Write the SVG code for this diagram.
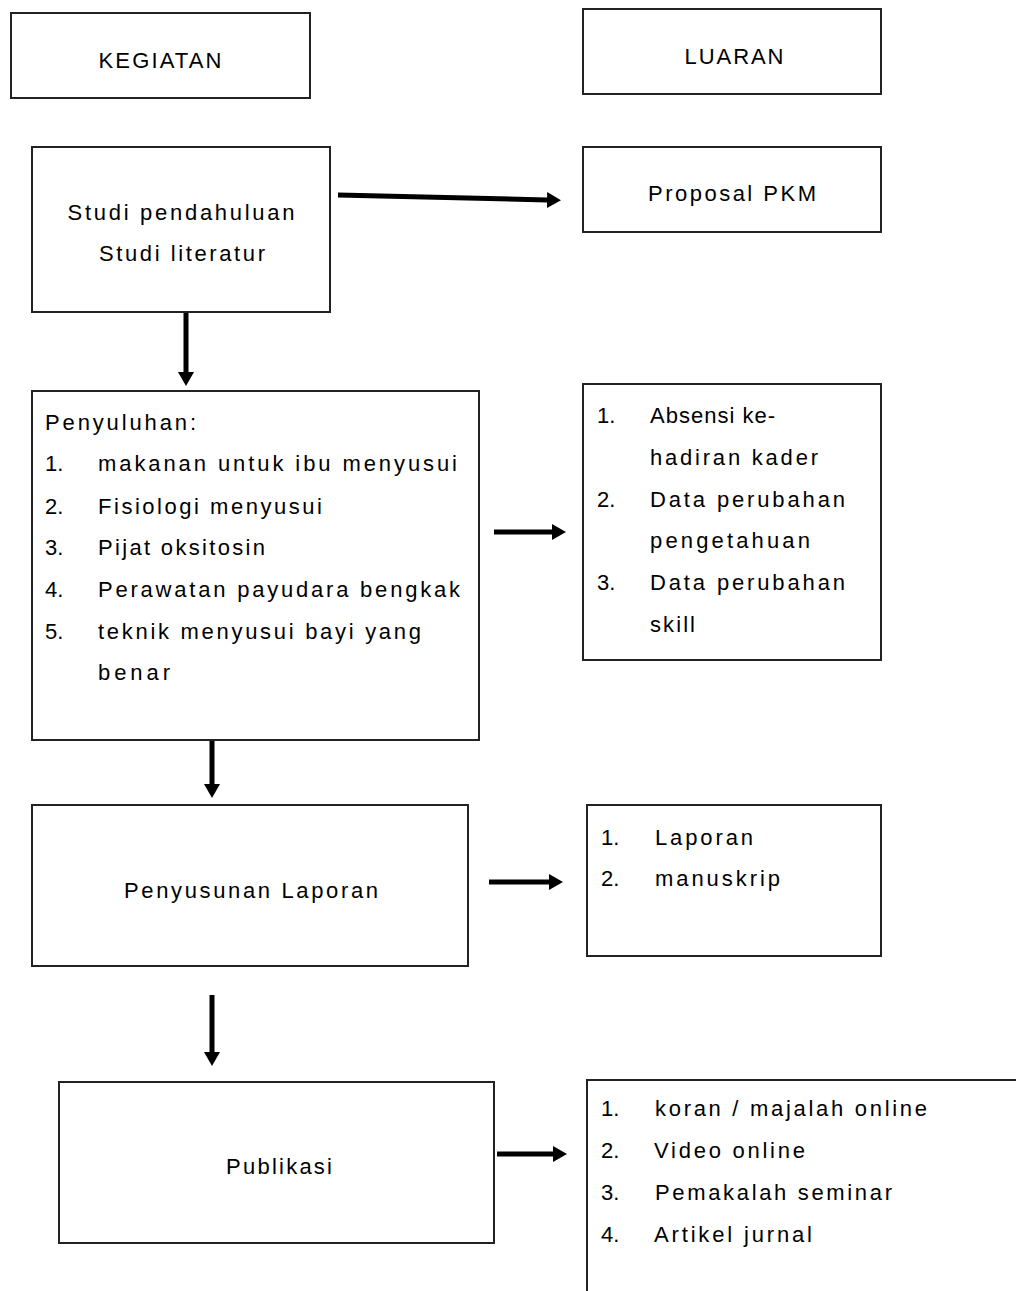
<svg xmlns="http://www.w3.org/2000/svg" width="1016" height="1291" viewBox="0 0 1016 1291">
<style>
.box{fill:#fff;stroke:#222;stroke-width:2}
text{font-family:"Liberation Sans",Arial,sans-serif;font-size:22px;fill:#000}
.c{text-anchor:middle}
.conn{stroke:#000;stroke-width:5;fill:none}
</style>
<defs>
<marker id="ah" markerUnits="userSpaceOnUse" markerWidth="16" markerHeight="18" refX="0" refY="9" orient="auto">
<path d="M0,1 L14,9 L0,17 Z" fill="#000"/>
</marker>
</defs>
<rect width="1016" height="1291" fill="#fff"/>
<g id="n-kegiatan"><rect class="box" x="11" y="13" width="299" height="85"/><text class="c" x="160" y="68" textLength="123" lengthAdjust="spacing">KEGIATAN</text></g>
<g id="n-luaran"><rect class="box" x="583" y="9" width="298" height="85"/><text class="c" x="734" y="64" textLength="99" lengthAdjust="spacing">LUARAN</text></g>
<g id="n-studi"><rect class="box" x="32" y="147" width="298" height="165"/>
<text class="c" x="181" y="220" textLength="227" lengthAdjust="spacing">Studi pendahuluan</text>
<text class="c" x="182" y="261" textLength="166" lengthAdjust="spacing">Studi literatur</text></g>
<g id="n-proposal"><rect class="box" x="583" y="147" width="298" height="85"/><text class="c" x="732" y="201" textLength="168" lengthAdjust="spacing">Proposal PKM</text></g>
<g id="n-penyuluhan"><rect class="box" x="32" y="391" width="447" height="349"/>
<text x="45" y="430" textLength="151" lengthAdjust="spacing">Penyuluhan:</text>
<text x="45" y="471">1.</text><text x="98" y="471" textLength="359" lengthAdjust="spacing">makanan untuk ibu menyusui</text>
<text x="45" y="514">2.</text><text x="98" y="514" textLength="224" lengthAdjust="spacing">Fisiologi menyusui</text>
<text x="45" y="555">3.</text><text x="98" y="555" textLength="167" lengthAdjust="spacing">Pijat oksitosin</text>
<text x="45" y="597">4.</text><text x="98" y="597" textLength="362" lengthAdjust="spacing">Perawatan payudara bengkak</text>
<text x="45" y="639">5.</text><text x="98" y="639" textLength="323" lengthAdjust="spacing">teknik menyusui bayi yang</text>
<text x="98" y="680" textLength="72" lengthAdjust="spacing">benar</text></g>
<g id="n-absensi"><rect class="box" x="583" y="384" width="298" height="276"/>
<text x="597" y="423">1.</text><text x="650" y="423" textLength="125" lengthAdjust="spacing">Absensi ke-</text>
<text x="650" y="465" textLength="168" lengthAdjust="spacing">hadiran kader</text>
<text x="597" y="507">2.</text><text x="650" y="507" textLength="195" lengthAdjust="spacing">Data perubahan</text>
<text x="650" y="548" textLength="160" lengthAdjust="spacing">pengetahuan</text>
<text x="597" y="590">3.</text><text x="650" y="590" textLength="195" lengthAdjust="spacing">Data perubahan</text>
<text x="650" y="632" textLength="45" lengthAdjust="spacing">skill</text></g>
<g id="n-penyusunan"><rect class="box" x="32" y="805" width="436" height="161"/><text class="c" x="251" y="898" textLength="254" lengthAdjust="spacing">Penyusunan Laporan</text></g>
<g id="n-laporan"><rect class="box" x="587" y="805" width="294" height="151"/>
<text x="601" y="845">1.</text><text x="655" y="845" textLength="98" lengthAdjust="spacing">Laporan</text>
<text x="601" y="886">2.</text><text x="655" y="886" textLength="125" lengthAdjust="spacing">manuskrip</text></g>
<g id="n-publikasi"><rect class="box" x="59" y="1082" width="435" height="161"/><text class="c" x="279" y="1174" textLength="106" lengthAdjust="spacing">Publikasi</text></g>
<g id="n-luaran-publikasi"><rect class="box" x="587" y="1080" width="450" height="240"/>
<text x="601" y="1116">1.</text><text x="655" y="1116" textLength="272" lengthAdjust="spacing">koran / majalah online</text>
<text x="601" y="1158">2.</text><text x="654" y="1158" textLength="151" lengthAdjust="spacing">Video online</text>
<text x="601" y="1200">3.</text><text x="655" y="1200" textLength="237" lengthAdjust="spacing">Pemakalah seminar</text>
<text x="601" y="1242">4.</text><text x="654" y="1242" textLength="158" lengthAdjust="spacing">Artikel jurnal</text></g>
<g id="connectors">
<line class="conn" x1="338" y1="195" x2="547" y2="200" marker-end="url(#ah)"/>
<line class="conn" x1="186" y1="313" x2="186" y2="372" marker-end="url(#ah)"/>
<line class="conn" x1="494" y1="532" x2="552" y2="532" marker-end="url(#ah)"/>
<line class="conn" x1="212" y1="741" x2="212" y2="784" marker-end="url(#ah)"/>
<line class="conn" x1="489" y1="882" x2="549" y2="882" marker-end="url(#ah)"/>
<line class="conn" x1="212" y1="995" x2="212" y2="1052" marker-end="url(#ah)"/>
<line class="conn" x1="497" y1="1154" x2="553" y2="1154" marker-end="url(#ah)"/>
</g>
</svg>
